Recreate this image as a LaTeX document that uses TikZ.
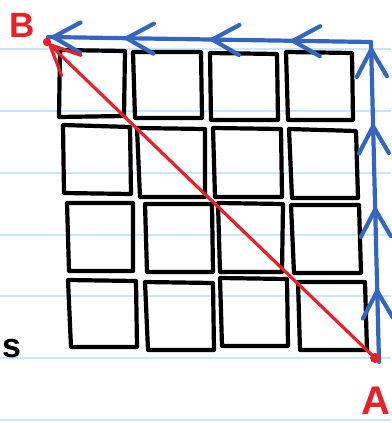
\documentclass[tikz,border=0pt]{standalone}
\usepackage{fontspec}
\setmainfont{Liberation Sans}
\usetikzlibrary{arrows.meta,decorations.markings}
\definecolor{rule}{HTML}{CDE6F7}
\definecolor{penblue}{HTML}{3466C0}
\definecolor{penred}{HTML}{E8202A}
\tikzset{
  rulel/.style={draw=rule,line width=1.8pt},
  boxline/.style={draw=black,line width=4.2pt,line join=round,line cap=round},
  blueline/.style={draw=penblue,line width=4.2pt,line cap=round,line join=round},
  redline/.style={draw=penred,line width=3.2pt,line cap=round},
  vhead/.tip={Straight Barb[length=27pt,width=30pt,line cap=round]},
  lbl/.style={text=penred,font=\bfseries,inner sep=0pt},
}
\begin{document}
\begin{tikzpicture}[x=1pt,y=-1pt]
\useasboundingbox (0,0) rectangle (391,423);
\fill[white] (0,0) rectangle (391,423);
% ruled paper lines
\foreach \yy in {49,111,173,235,296,358,420}
  \draw[rulel] (0,\yy) -- (391,\yy);
% partial text on left
\node[anchor=base west,inner sep=0pt,font=\bfseries\fontsize{34}{34}\selectfont] (txt) at (2,357) {s};
% boxes
\draw[boxline] (60,50) -- (125,51) -- (124,116) -- (59,117) -- cycle;
\draw[boxline] (133,52) -- (201,52) -- (202,118) -- (135,118) -- cycle;
\draw[boxline] (210,53) -- (277,54) -- (278,120) -- (211,120) -- cycle;
\draw[boxline] (286,52) -- (352,53) -- (353,120) -- (288,120) -- cycle;
\draw[boxline] (63,125) -- (130,127) -- (131,194) -- (64,193) -- cycle;
\draw[boxline] (137,128) -- (205,129) -- (205,197) -- (140,197) -- cycle;
\draw[boxline] (213,128) -- (281,129) -- (282,197) -- (215,197) -- cycle;
\draw[boxline] (289,129) -- (356,131) -- (358,198) -- (292,198) -- cycle;
\draw[boxline] (67,203) -- (133,203) -- (133,271) -- (69,271) -- cycle;
\draw[boxline] (145,204) -- (212,204) -- (213,272) -- (147,272) -- cycle;
\draw[boxline] (218,203) -- (283,204) -- (282,272) -- (220,272) -- cycle;
\draw[boxline] (291,205) -- (359,205) -- (361,273) -- (294,273) -- cycle;
\draw[boxline] (68,280) -- (136,281) -- (137,347) -- (71,347) -- cycle;
\draw[boxline] (145,282) -- (213,283) -- (214,350) -- (148,350) -- cycle;
\draw[boxline] (220,278) -- (287,279) -- (288,346) -- (222,346) -- cycle;
\draw[boxline] (298,282) -- (365,282) -- (367,350) -- (300,350) -- cycle;
% key points
\coordinate (A) at (375,358);
\coordinate (B) at (47,42);
\coordinate (Ab) at (379,362);
\coordinate (C) at (371,42);
\coordinate (Bt) at (48,37);
% blue path
\draw[blueline,postaction={decorate},decoration={markings,
  mark=at position 0.235 with {\arrow{vhead}},
  mark=at position 0.49 with {\arrow{vhead}},
  mark=at position 0.75 with {\arrow{vhead}},
  mark=at position 0.99 with {\arrow{vhead}}}] (Ab) -- (C);
\draw[blueline,postaction={decorate},decoration={markings,
  mark=at position 0.255 with {\arrow{vhead}},
  mark=at position 0.505 with {\arrow{vhead}},
  mark=at position 0.77 with {\arrow{vhead}},
  mark=at position 0.997 with {\arrow{vhead}}}] (C) -- (Bt);
% red diagonal
\draw[redline,-{Straight Barb[length=30pt,width=28pt,line cap=round]}] (A) -- (B);
\fill[penred] (A) circle (5);
\fill[penred] (B) circle (4.2);
% labels
\node[lbl,font=\bfseries\fontsize{35}{35}\selectfont] (lB) at (22,25) {B};
\node[lbl,font=\bfseries\fontsize{40}{40}\selectfont] (lA) at (376,401) {A};
\end{tikzpicture}
\end{document}
